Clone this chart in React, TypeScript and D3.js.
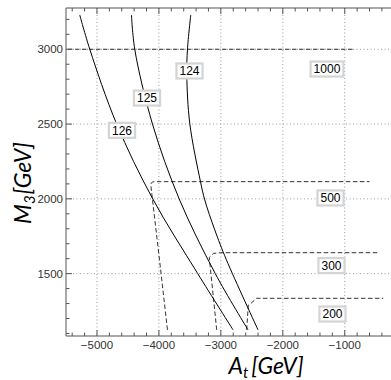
import React from "react";
import * as d3 from "d3";

// tick values
const xTicks = [-5000, -4000, -3000, -2000, -1000];
const yTicks = [1500, 2000, 2500, 3000];

// m_h contours (solid), [A_t, M_3]
const mh126: [number, number][] = [
  [-5278, 3229], [-5116, 3000], [-4685, 2503], [-4100, 2000], [-3373, 1500], [-2803, 1124],
];
const mh125: [number, number][] = [
  [-4443, 3229], [-4390, 3000], [-4104, 2500], [-3673, 2000], [-3090, 1500], [-2561, 1124],
];
const mh124: [number, number][] = [
  [-3486, 3229], [-3539, 3000], [-3550, 2828], [-3502, 2505], [-3329, 2115],
  [-3260, 1993], [-3098, 1792], [-2910, 1592], [-2400, 1124],
];

// dashed contours
const dash1000: [number, number][] = [[-5468, 3000], [-833, 3000]];
const dash500: [number, number][] = [
  [-3862, 1124], [-3975, 1536], [-4133, 2099], [-4105, 2113], [-4060, 2115], [-600, 2115],
];
const dash300: [number, number][] = [
  [-3067, 1124], [-3187, 1609], [-3122, 1635], [-3000, 1640], [-451, 1640],
];
const dash200: [number, number][] = [
  [-2583, 1124], [-2557, 1290], [-2517, 1300], [-2425, 1335], [-378, 1335],
];

// contour labels
const labelText = ["126", "125", "124", "1000", "500", "300", "200"];
const labelA = [-4596, -4192, -3506, -1287, -1230, -1214, -1198];
const labelM = [2458, 2674, 2855, 2868, 2006, 1554, 1230];

const W = 391;
const H = 380;

export default function App() {
  const x = d3.scaleLinear().domain([-5500, -250]).range([66, 391.2]);
  const y = d3.scaleLinear().domain([1083, 3276]).range([336, 8]);
  const left = 66, right = 391, top = 8, bottom = 336;

  const smooth = d3
    .line<[number, number]>()
    .x((d) => x(d[0]))
    .y((d) => y(d[1]))
    .curve(d3.curveCatmullRom.alpha(0.5));
  const straight = d3
    .line<[number, number]>()
    .x((d) => x(d[0]))
    .y((d) => y(d[1]));

  const minorX = d3.range(-5400, -200, 200);
  const minorY = d3.range(1100, 3300, 100);
  const fmt = (v: number) => String(v).replace("-", "\u2212");
  const tickFont = "'Liberation Sans', Arial, sans-serif";
  const titleFont = "Lato, 'Open Sans', sans-serif";

  return (
    <svg
      width={W}
      height={H}
      style={{ position: "absolute", left: 0, top: 0, background: "#fff" }}
    >
      <defs>
        <clipPath id="plot">
          <rect x={left} y={top} width={right - left} height={bottom - top} />
        </clipPath>
      </defs>

      {/* grid */}
      <g stroke="#9a9a9a" strokeWidth={1} strokeDasharray="1,2.5">
        {xTicks.map((t) => (
          <line key={"gx" + t} x1={x(t)} x2={x(t)} y1={top} y2={bottom} />
        ))}
        {yTicks.map((t) => (
          <line key={"gy" + t} x1={left} x2={right} y1={y(t)} y2={y(t)} />
        ))}
      </g>

      <g clipPath="url(#plot)" fill="none">
        {[dash1000, dash500, dash300, dash200].map((d, i) => (
          <path key={"d" + i} d={straight(d) || ""} stroke="#333" strokeWidth={1} strokeDasharray="4.5,2.5" />
        ))}
        {[mh126, mh125, mh124].map((d, i) => (
          <path key={"s" + i} d={smooth(d) || ""} stroke="#000" strokeWidth={1} />
        ))}
      </g>

      {/* labels */}
      {labelText.map((t, i) => {
        const w = t.length * 6.7 + 6;
        const cx = x(labelA[i]);
        const cy = y(labelM[i]);
        return (
          <g key={"l" + t}>
            <rect x={cx - w / 2} y={cy - 7.5} width={w} height={15} fill="#fff" stroke="#d4d4d4" strokeWidth={2.2} />
            <text x={cx} y={cy + 4.2} textAnchor="middle" fontSize={12} fontFamily={tickFont} fill="#000">
              {t}
            </text>
          </g>
        );
      })}

      {/* frame */}
      <g stroke="#555" strokeWidth={1}>
        <line x1={left} x2={right} y1={bottom} y2={bottom} />
        <line x1={left} x2={right} y1={top} y2={top} />
        <line x1={left} x2={left} y1={top} y2={bottom} />
        {xTicks.map((t) => (
          <g key={"tx" + t}>
            <line x1={x(t)} x2={x(t)} y1={bottom} y2={bottom - 6} />
            <line x1={x(t)} x2={x(t)} y1={top} y2={top + 6} />
          </g>
        ))}
        {minorX.filter((t) => !xTicks.includes(t)).map((t) => (
          <g key={"mx" + t}>
            <line x1={x(t)} x2={x(t)} y1={bottom} y2={bottom - 3.5} />
            <line x1={x(t)} x2={x(t)} y1={top} y2={top + 3.5} />
          </g>
        ))}
        {yTicks.map((t) => (
          <line key={"ty" + t} x1={left} x2={left + 6} y1={y(t)} y2={y(t)} />
        ))}
        {minorY.filter((t) => !yTicks.includes(t)).map((t) => (
          <line key={"my" + t} x1={left} x2={left + 3.5} y1={y(t)} y2={y(t)} />
        ))}
      </g>

      {/* tick labels */}
      <g fontFamily={tickFont} fontSize={11.5} fill="#333">
        {xTicks.map((t) => (
          <text key={"xl" + t} x={x(t)} y={348.5} textAnchor="middle">
            {fmt(t)}
          </text>
        ))}
        {yTicks.map((t) => (
          <text key={"yl" + t} x={63} y={y(t) + 4} textAnchor="end">
            {t}
          </text>
        ))}
      </g>

      {/* axis titles */}
      <text x={266} y={374} textAnchor="middle" fontFamily={titleFont} fontStyle="italic" fontSize={23} fill="#000">
        A<tspan fontSize={15} dy={4}>t</tspan>
        <tspan dy={-4} dx={3}>[GeV]</tspan>
      </text>
      <text
        transform="translate(31,183) rotate(-90)"
        textAnchor="middle"
        fontFamily={titleFont}
        fontStyle="italic"
        fontSize={23}
        fill="#000"
      >
        M<tspan fontSize={15} dy={4}>3</tspan>
        <tspan dy={-4} dx={1}>[GeV]</tspan>
      </text>
    </svg>
  );
}
